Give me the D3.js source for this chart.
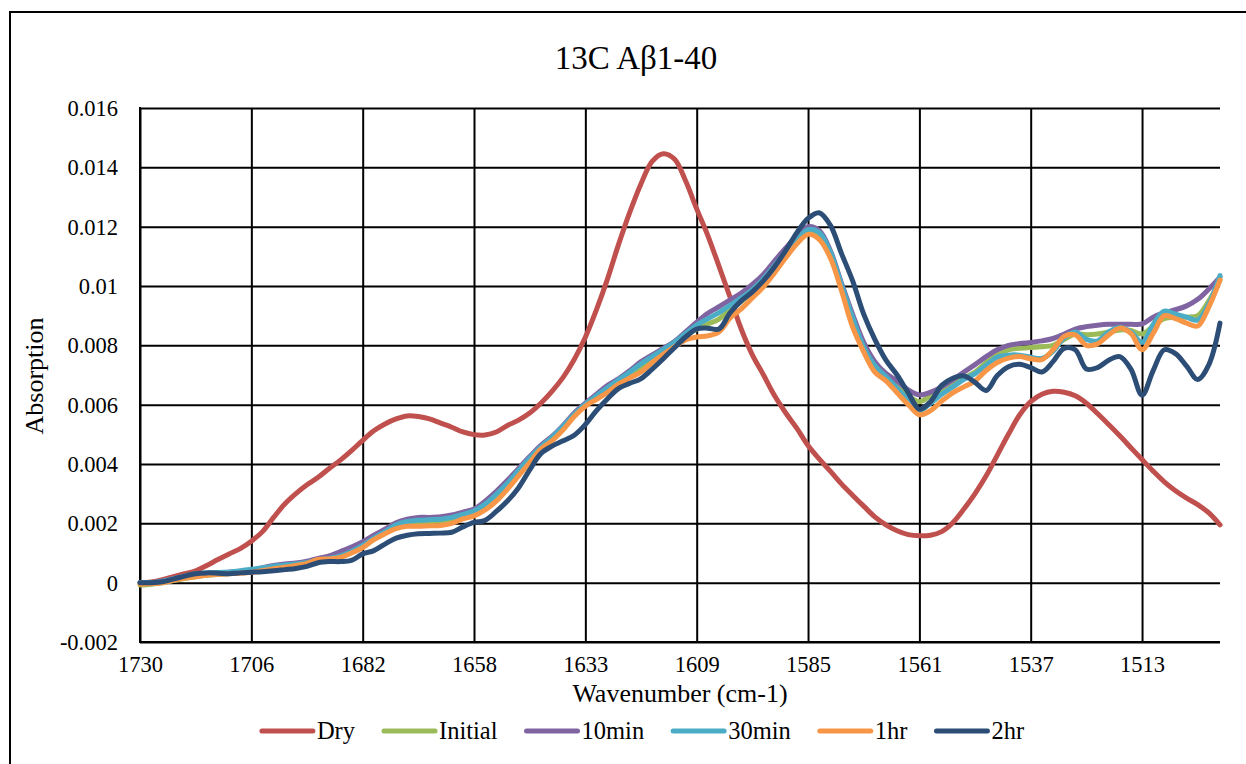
<!DOCTYPE html>
<html><head><meta charset="utf-8">
<script src="https://cdn.jsdelivr.net/npm/d3@7"></script>
<style>html,body{margin:0;padding:0;background:#fff;} svg{display:block;}</style>
</head><body><svg id="chart" width="1246" height="764"></svg>
<script>
// Wavenumber grid (cm-1)
const wavenumbers = [
1729.87,1727.46,1725.05,1722.64,1720.23,1717.82,1715.41,1713.00,1710.58,1708.17,
1705.76,1703.35,1700.94,1698.53,1696.12,1693.71,1691.30,1688.89,1686.48,1684.07,
1681.65,1679.24,1676.83,1674.42,1672.01,1669.60,1667.19,1664.78,1662.37,1659.96,
1657.55,1655.14,1652.72,1650.31,1647.90,1645.49,1643.08,1640.67,1638.26,1635.85,
1633.44,1631.03,1628.62,1626.21,1623.79,1621.38,1618.97,1616.56,1614.15,1611.74,
1609.33,1606.92,1604.51,1602.10,1599.69,1597.28,1594.86,1592.45,1590.04,1587.63,
1585.22,1582.81,1580.40,1577.99,1575.58,1573.17,1570.76,1568.35,1565.94,1563.52,
1561.11,1558.70,1556.29,1553.88,1551.47,1549.06,1546.65,1544.24,1541.83,1539.42,
1537.01,1534.59,1532.18,1529.77,1527.36,1524.95,1522.54,1520.13,1517.72,1515.31,
1512.90,1510.49,1508.08,1505.66,1503.25,1500.84,1498.43,1496.02];

const dry = [
0,0.00002,0.0001,0.0002,0.0003,0.0004,0.00058,0.00078,0.00097,0.00115,
0.0014,0.00172,0.0022,0.00265,0.003,0.0033,0.00355,0.00385,0.00413,0.00445,
0.0048,0.00512,0.00535,0.00552,0.00562,0.0056,0.00552,0.00538,0.00524,0.00508,
0.00499,0.00498,0.00508,0.0053,0.00548,0.00572,0.00605,0.00645,0.00692,0.00752,
0.00827,0.0092,0.01025,0.01142,0.0125,0.01345,0.0142,0.01446,0.01428,0.01355,
0.0126,0.0117,0.01067,0.00962,0.00855,0.00768,0.007,0.0063,0.00572,0.0052,
0.00462,0.00417,0.00376,0.00333,0.00295,0.00258,0.00222,0.00195,0.00175,0.00162,
0.00158,0.0016,0.00172,0.00202,0.00248,0.003,0.0036,0.0043,0.005,0.00565,
0.0061,0.00635,0.00645,0.00642,0.0063,0.00605,0.0057,0.00533,0.00495,0.00455,
0.00415,0.00376,0.0034,0.0031,0.00285,0.00263,0.00235,0.00195];

const initial = [
-0.00008,-0.00005,0,0.00007,0.00014,0.0002,0.00025,0.00028,0.00031,0.00034,
0.00037,0.00042,0.0005,0.00056,0.00061,0.00067,0.00078,0.00084,0.00092,0.00106,
0.00126,0.0015,0.00172,0.00192,0.00202,0.00205,0.00206,0.00208,0.00215,0.00227,
0.00237,0.0026,0.00292,0.0033,0.00372,0.00415,0.00456,0.00485,0.00522,0.00566,
0.006,0.00627,0.00655,0.0068,0.00702,0.00728,0.00755,0.0078,0.00804,0.00832,
0.00855,0.00872,0.00888,0.00922,0.00948,0.0098,0.01017,0.01062,0.0111,0.01152,
0.01185,0.01172,0.01108,0.01,0.00885,0.00795,0.00728,0.00695,0.0066,0.0063,
0.0061,0.0063,0.00645,0.00667,0.0069,0.0071,0.00742,0.00768,0.00785,0.0079,
0.00793,0.00795,0.008,0.0082,0.00838,0.00836,0.00838,0.00845,0.00852,0.0085,
0.00838,0.00865,0.0089,0.00894,0.00895,0.009,0.0095,0.0102];

const min10 = [
0,0,0.00005,0.00012,0.0002,0.00027,0.0003,0.00032,0.00035,0.00038,
0.00042,0.0005,0.00058,0.00063,0.00066,0.00072,0.00082,0.0009,0.00105,0.0012,
0.00138,0.0016,0.0018,0.00202,0.00214,0.0022,0.0022,0.00222,0.00228,0.00238,
0.00248,0.00275,0.00308,0.00345,0.00385,0.00425,0.00463,0.00493,0.0053,0.00572,
0.00605,0.00635,0.00665,0.00688,0.00715,0.00745,0.00768,0.0079,0.00813,0.00845,
0.00878,0.00908,0.0093,0.00953,0.00976,0.01005,0.0104,0.01085,0.01128,0.01168,
0.012,0.01187,0.0112,0.0101,0.00905,0.0081,0.00745,0.00705,0.0068,0.0065,
0.00633,0.00642,0.0066,0.00683,0.0071,0.00735,0.00762,0.00785,0.008,0.00806,
0.0081,0.00815,0.00823,0.00838,0.00855,0.00863,0.00868,0.00871,0.00871,0.00871,
0.00872,0.00895,0.0091,0.0092,0.00933,0.00955,0.0099,0.0103];

const min30 = [
0,0,0.00005,0.00013,0.00022,0.0003,0.00033,0.00034,0.00036,0.0004,
0.00045,0.0005,0.00055,0.0006,0.00063,0.00068,0.00076,0.00082,0.0009,0.00105,
0.00126,0.0015,0.00172,0.00195,0.00206,0.0021,0.00212,0.00214,0.0022,0.0023,
0.00242,0.00265,0.00298,0.00335,0.00378,0.0042,0.00458,0.0049,0.00527,0.00568,
0.00602,0.0063,0.00658,0.00685,0.0071,0.00738,0.00762,0.00786,0.0081,0.0084,
0.00868,0.0089,0.0091,0.00935,0.0096,0.00988,0.01025,0.0107,0.01115,0.01155,
0.0119,0.0118,0.01115,0.01005,0.00895,0.00795,0.00732,0.00695,0.00655,0.00615,
0.0058,0.00605,0.00635,0.0066,0.00685,0.00705,0.00733,0.0076,0.00767,0.00767,
0.0076,0.00756,0.0078,0.00825,0.00845,0.0082,0.00815,0.00845,0.0086,0.00845,
0.0081,0.0087,0.00915,0.00905,0.00895,0.00885,0.0094,0.01035];

const hr1 = [
-0.00005,-0.00003,0,0.00008,0.00015,0.0002,0.00025,0.00028,0.0003,0.00032,
0.00035,0.0004,0.00047,0.00052,0.00058,0.00065,0.00078,0.0008,0.00085,0.001,
0.00118,0.00145,0.00165,0.00182,0.0019,0.0019,0.00192,0.00193,0.002,0.00215,
0.00225,0.00245,0.00275,0.00315,0.0036,0.00405,0.0045,0.00478,0.00515,0.0056,
0.00595,0.00618,0.00642,0.0067,0.0069,0.0071,0.00742,0.0077,0.00795,0.00818,
0.00828,0.00832,0.00845,0.00892,0.00923,0.0096,0.00997,0.01045,0.01095,0.01142,
0.01174,0.01157,0.01095,0.00985,0.00862,0.00778,0.0071,0.0068,0.0064,0.006,
0.00566,0.0058,0.00612,0.0064,0.0066,0.0068,0.00715,0.00742,0.00757,0.00762,
0.00755,0.00752,0.00785,0.0083,0.00835,0.008,0.00805,0.00835,0.00858,0.0084,
0.00785,0.0084,0.009,0.0089,0.00875,0.00865,0.0093,0.0102];

const hr2 = [
0,0,0.00003,0.00012,0.00022,0.0003,0.00033,0.00032,0.0003,0.00033,
0.00035,0.00037,0.0004,0.00044,0.00048,0.00055,0.00067,0.00071,0.00071,0.00075,
0.00097,0.00108,0.0013,0.0015,0.0016,0.00165,0.00166,0.00167,0.0017,0.00188,
0.00203,0.0021,0.0024,0.00275,0.0032,0.0038,0.00435,0.0046,0.00478,0.00497,
0.00533,0.0058,0.0062,0.00655,0.00672,0.00688,0.0072,0.00755,0.00792,0.00828,
0.00855,0.00858,0.00855,0.0091,0.0095,0.0098,0.01018,0.01065,0.0112,0.0118,
0.01228,0.01247,0.01205,0.0111,0.01018,0.00905,0.0082,0.0075,0.007,0.0064,
0.00585,0.0061,0.00665,0.00689,0.00697,0.00675,0.00648,0.00698,0.00728,0.00736,
0.00725,0.0071,0.00745,0.0079,0.00785,0.0072,0.00725,0.0075,0.00762,0.0072,
0.00632,0.00715,0.00785,0.00772,0.0073,0.00685,0.00735,0.00875];

const seriesNames = ["Dry","Initial","10min","30min","1hr","2hr"];
const seriesValues = [dry, initial, min10, min30, hr1, hr2];
const seriesColors = ["#C0504D","#9BBB59","#8064A2","#4BACC6","#F79646","#2C4D75"];

const xTickValues = [1729.87,1705.76,1681.65,1657.55,1633.44,1609.33,1585.22,1561.11,1537.01,1512.90];
const xTickLabels = ["1730","1706","1682","1658","1633","1609","1585","1561","1537","1513"];
const yTickValues = [-0.002,0,0.002,0.004,0.006,0.008,0.01,0.012,0.014,0.016];
const yTickLabels = ["-0.002","0","0.002","0.004","0.006","0.008","0.01","0.012","0.014","0.016"];

const titleText = "13C A\u03B21-40";
const xTitle = "Wavenumber (cm-1)";
const yTitle = "Absorption";

const FONT = "'Liberation Serif','Times New Roman',serif";
const svg = d3.select("#chart");
const L = 140, R = 1220, T = 108, B = 642;

// outer frame
svg.append("rect").attr("x",10).attr("y",12).attr("width",1252).attr("height",800)
  .attr("fill","#fff").attr("stroke","#000").attr("stroke-width",2);

const x = d3.scaleLinear().domain([wavenumbers[0], wavenumbers[wavenumbers.length-1]]).range([L, R]);
const y = d3.scaleLinear().domain([-0.002, 0.016]).range([B, T]);

// grid
const yAxis = d3.axisLeft(y).tickValues(yTickValues).tickSize(-(R-L))
  .tickFormat((d,i)=>yTickLabels[i]).tickPadding(22);
const gy = svg.append("g").attr("transform",`translate(${L},0)`).call(yAxis);
gy.select(".domain").remove();
gy.selectAll(".tick line").attr("stroke","#000").attr("stroke-width",2);
gy.selectAll(".tick text").attr("font-family",FONT).attr("font-size",22.5).attr("fill","#000")
  .attr("dy","0.33em");

const xAxis = d3.axisBottom(x).tickValues(xTickValues).tickSize(-(B-T))
  .tickFormat((d,i)=>xTickLabels[i]).tickPadding(14);
const gx = svg.append("g").attr("transform",`translate(0,${B})`).call(xAxis);
gx.select(".domain").remove();
gx.selectAll(".tick line").attr("stroke","#000").attr("stroke-width",2);
gx.selectAll(".tick text").attr("font-family",FONT).attr("font-size",22.5).attr("fill","#000");

// axis lines
svg.append("line").attr("x1",L).attr("x2",L).attr("y1",T-1).attr("y2",B+1).attr("stroke","#000").attr("stroke-width",2);
svg.append("line").attr("x1",L-1).attr("x2",R).attr("y1",B).attr("y2",B).attr("stroke","#000").attr("stroke-width",2);

// lines
const line = d3.line().x((d,i)=>x(wavenumbers[i])).y(d=>y(d)).curve(d3.curveCatmullRom.alpha(0.5));
seriesValues.forEach((vals,k)=>{
  svg.append("path").datum(vals).attr("d",line).attr("fill","none")
    .attr("stroke",seriesColors[k]).attr("stroke-width",5)
    .attr("stroke-linejoin","round").attr("stroke-linecap","round");
});

// titles
svg.append("text").attr("x",636).attr("y",69).attr("text-anchor","middle")
  .attr("font-family",FONT).attr("font-size",33).text(titleText);
svg.append("text").attr("x",680).attr("y",702).attr("text-anchor","middle")
  .attr("font-family",FONT).attr("font-size",26).text(xTitle);
svg.append("text").attr("transform","translate(43,376) rotate(-90)").attr("text-anchor","middle")
  .attr("font-family",FONT).attr("font-size",26).text(yTitle);

// legend
const lg = svg.append("g");
const lineLen = 55, gapText = 2, gapItem = 27, legY = 731;
let cx = 0;
seriesNames.forEach((name,k)=>{
  const g = lg.append("g");
  g.append("line").attr("x1",cx+2).attr("x2",cx+lineLen-2).attr("y1",legY).attr("y2",legY)
    .attr("stroke",seriesColors[k]).attr("stroke-width",5).attr("stroke-linecap","round");
  const t = g.append("text").attr("x",cx+lineLen+gapText).attr("y",legY+8)
    .attr("font-family",FONT).attr("font-size",24.5).text(name);
  cx += lineLen + gapText + t.node().getComputedTextLength() + gapItem;
});
const total = cx - gapItem;
lg.attr("transform",`translate(${642 - total/2},0)`);
</script></body></html>
